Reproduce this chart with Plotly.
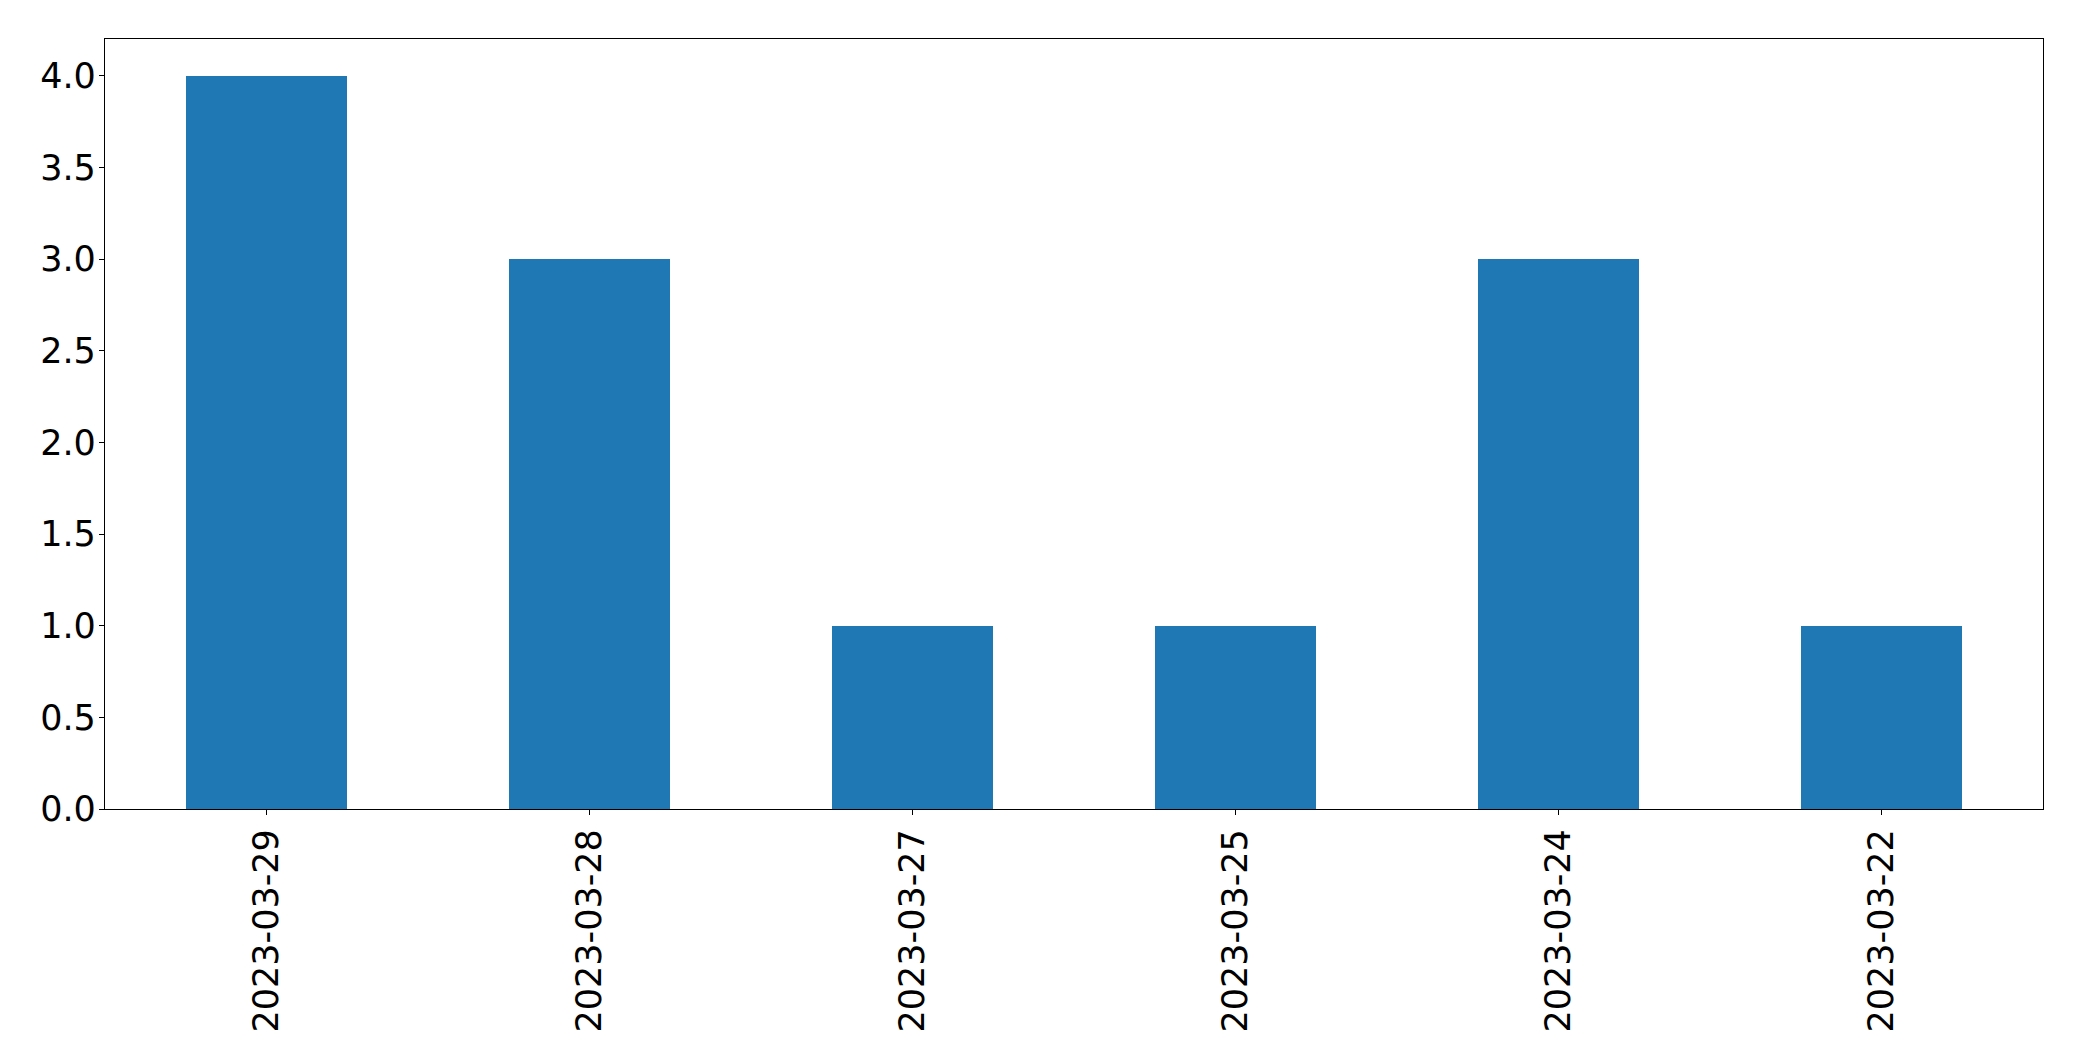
import plotly.graph_objects as go

dates = ["2023-03-29", "2023-03-28", "2023-03-27", "2023-03-25", "2023-03-24", "2023-03-22"]
counts = [4, 3, 1, 1, 3, 1]
y_ticks = [0.0, 0.5, 1.0, 1.5, 2.0, 2.5, 3.0, 3.5, 4.0]
y_tick_labels = ["0.0", "0.5", "1.0", "1.5", "2.0", "2.5", "3.0", "3.5", "4.0"]

fig = go.Figure(go.Bar(x=dates, y=counts, width=0.5, marker=dict(color="#1f77b4", line=dict(width=0))))

fig.update_layout(
    width=2074, height=1053,
    margin=dict(l=97, r=39, t=31, b=252, autoexpand=False),
    paper_bgcolor="white", plot_bgcolor="white",
    font=dict(family="DejaVu Sans", size=35, color="black"),
    showlegend=False,
    bargap=0,
)
fig.update_xaxes(
    type="category", range=[-0.5, 5.5], tickangle=-90,
    showline=True, mirror=True, linecolor="black", linewidth=1.3,
    ticks="outside", ticklen=5, tickwidth=1.3, tickcolor="black",
    showgrid=False, zeroline=False, ticklabelstandoff=0,
)
fig.update_yaxes(
    range=[0, 4.2], tickvals=y_ticks, ticktext=y_tick_labels,
    showline=True, mirror=True, linecolor="black", linewidth=1.3,
    ticks="outside", ticklen=5, tickwidth=1.3, tickcolor="black",
    showgrid=False, zeroline=False, ticklabelstandoff=-4,
)
fig.write_html("out.html")
